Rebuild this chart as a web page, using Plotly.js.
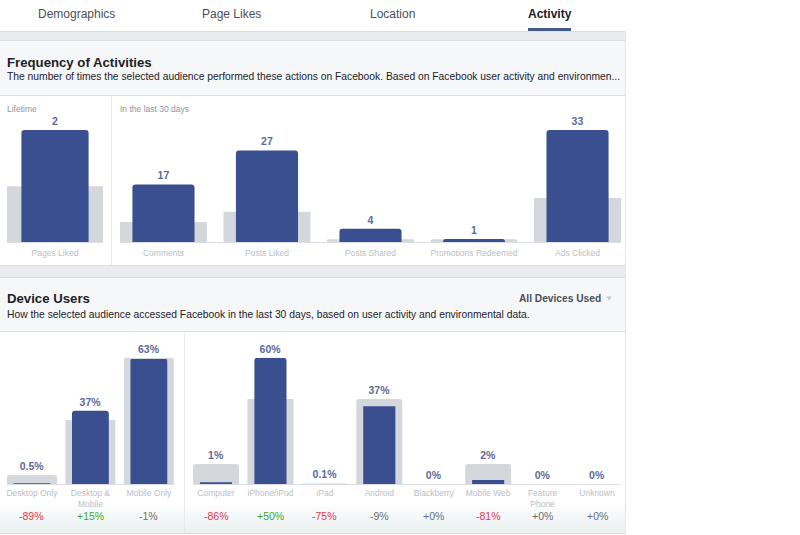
<!DOCTYPE html>
<html>
<head>
<meta charset="utf-8">
<script src="https://cdn.plot.ly/plotly-3.0.1.min.js"></script>
<style>html,body{margin:0;padding:0;background:#fff;}#chart{width:800px;height:535px;}</style>
</head>
<body>
<div id="chart"></div>
<script>
// ---------------- DATA ----------------
const tabs = ['Demographics', 'Page Likes', 'Location', 'Activity'];
const activeTab = 'Activity';

const lifetimeCats = ['Pages Liked'];
const lifetimeVals = [2];
const lifetimeBench = [1];

const activityCats = ['Comments', 'Posts Liked', 'Posts Shared', 'Promotions Redeemed', 'Ads Clicked'];
const activityVals = [17, 27, 4, 1, 33];
const activityBench = [6, 9, 0.9, 0.9, 13];

const platformCats = ['Desktop Only', 'Desktop & Mobile', 'Mobile Only'];
const platformTicks = ['Desktop Only', 'Desktop &<br>Mobile', 'Mobile Only'];
const platformVals = [0.5, 37, 63];
const platformBench = [4.7, 32.3, 63.7];
const platformChange = [-89, 15, -1];

const deviceCats = ['Computer', 'iPhone/iPod', 'iPad', 'Android', 'Blackberry', 'Mobile Web', 'Feature Phone', 'Unknown'];
const deviceTicks = ['Computer', 'iPhone/iPod', 'iPad', 'Android', 'Blackberry', 'Mobile Web', 'Feature<br>Phone', 'Unknown'];
const deviceVals = [1, 60, 0.1, 37, 0, 2, 0, 0];
const deviceBench = [9.6, 40.4, 0.4, 40.4, 0, 9.6, 0, 0];
const deviceChange = [-86, 50, -75, -9, 0, -81, 0, 0];

// ---------------- STYLE ----------------
const W = 800, H = 535;
const FONT = 'Liberation Sans, Arial, Helvetica, sans-serif';
const BLUE = '#3a4f90';
const GREY_BAR = '#d4d7dc';
const LABEL_COL = '#5b6b9c';
const TICK_COL = '#b9bec6';
const px = x => x / W;
const py = y => 1 - y / H;

function panel(n, cats, ticks, vals, bench, fmt, gw, bw) {
  const xa = n === 1 ? 'x' : 'x' + n, ya = n === 1 ? 'y' : 'y' + n;
  const top = cats.map((c, i) => Math.max(vals[i], bench[i]));
  return [
    {type: 'bar', x: cats, y: bench, xaxis: xa, yaxis: ya, width: gw,
     marker: {color: GREY_BAR, cornerradius: 3}, hoverinfo: 'skip', cliponaxis: false, showlegend: false},
    {type: 'bar', x: cats, y: vals, xaxis: xa, yaxis: ya, width: bw,
     marker: {color: BLUE, cornerradius: 3}, hoverinfo: 'skip', cliponaxis: false, showlegend: false},
    {type: 'bar', x: cats, y: top, xaxis: xa, yaxis: ya, width: gw,
     marker: {color: 'rgba(0,0,0,0)'}, text: vals.map(fmt), textposition: 'outside',
     constraintext: 'none', textangle: 0,
     outsidetextfont: {family: FONT, size: 10.5, color: LABEL_COL, weight: 'bold'},
     hoverinfo: 'skip', cliponaxis: false, showlegend: false}
  ];
}

const num = v => String(v);
const pct = v => v + '%';

const data = [].concat(
  panel(1, lifetimeCats, lifetimeCats, lifetimeVals, lifetimeBench, num, 1.0, 0.7),
  panel(2, activityCats, activityCats, activityVals, activityBench, num, 0.84, 0.6),
  panel(3, platformCats, platformTicks, platformVals, platformBench, pct, 0.855, 0.63),
  panel(4, deviceCats, deviceTicks, deviceVals, deviceBench, pct, 0.845, 0.59)
);

function xax(domain, range, cats, ticks, standoff) {
  return {domain: domain, range: range, type: 'category', fixedrange: true,
    showgrid: false, zeroline: false, showline: true, linecolor: '#dcdee3', linewidth: 1,
    ticks: '', tickvals: cats, ticktext: ticks, ticklabelstandoff: standoff,
    tickfont: {family: FONT, size: 8.5, color: TICK_COL}};
}
function yax(domain, vals, bench) {
  return {domain: domain, range: [0, Math.max(...vals, ...bench)], visible: false, fixedrange: true};
}

const topDom = [py(242.3), py(130)];
const botDom = [py(484.3), py(357.7)];

const shapes = [];
function rect(x0, y0, x1, y1, fill, opacity) {
  shapes.push({type: 'rect', xref: 'paper', yref: 'paper', x0: px(x0), x1: px(x1), y0: py(y1), y1: py(y0),
    fillcolor: fill, line: {width: 0}, layer: 'below', opacity: opacity === undefined ? 1 : opacity});
}
function line(x0, y0, x1, y1, col) {
  shapes.push({type: 'line', xref: 'paper', yref: 'paper', x0: px(x0), x1: px(x1), y0: py(y0), y1: py(y1),
    line: {color: col, width: 1}, layer: 'below'});
}
// page frame
rect(0, 31, 626, 40, '#e9ebee');
line(0, 31.5, 626, 31.5, '#dcdee3');
rect(0, 40, 626, 95, '#f6f7f9');
line(0, 40.5, 626, 40.5, '#dcdee3');
line(0, 95.5, 626, 95.5, '#dcdee3');
line(111.5, 96, 111.5, 265, '#e9ebee');
rect(0, 265, 626, 277, '#e9ebee');
line(0, 265.5, 626, 265.5, '#dcdee3');
line(0, 277.5, 626, 277.5, '#dcdee3');
rect(0, 278, 626, 331, '#f6f7f9');
line(0, 331.5, 626, 331.5, '#dcdee3');
line(184.5, 332, 184.5, 533, '#e9ebee');
// soft fade towards the bottom edge
for (let k = 0; k < 8; k++) {
  rect(0, 505 + k * 3.5, 626, 533, '#e6e8eb', 0.1);
}
line(0, 533.5, 626, 533.5, '#d6d8dc');
line(625.5, 31, 625.5, 534, '#e3e5e8');
// active tab underline
rect(528, 28, 571, 31, '#475a8c');

const annotations = [];
function txt(x, y, text, size, color, opts) {
  annotations.push(Object.assign({xref: 'paper', yref: 'paper', x: px(x), y: py(y), text: text,
    showarrow: false, xanchor: 'left', yanchor: 'middle',
    font: {family: FONT, size: size, color: color}}, opts || {}));
}
const tabX = [76, 231, 392, 550];
tabs.forEach((t, i) => {
  const act = t === activeTab;
  txt(tabX[i], 14, t, 12, act ? '#1d2129' : '#4b4f56',
      {xanchor: 'center', font: {family: FONT, size: 12, color: act ? '#1d2129' : '#4b4f56', weight: act ? 'bold' : 'normal'}});
});
txt(5, 62, 'Frequency of Activities', 13.2, '#1d2129', {font: {family: FONT, size: 13.2, color: '#1d2129', weight: 'bold'}});
txt(5, 77, 'The number of times the selected audience performed these actions on Facebook. Based on Facebook user activity and environmen...', 10.3, '#1d2129');
txt(5, 109, 'Lifetime', 8.5, '#90949c');
txt(118, 109, 'In the last 30 days', 8.5, '#90949c');
txt(5, 298, 'Device Users', 13.2, '#1d2129', {font: {family: FONT, size: 13.2, color: '#1d2129', weight: 'bold'}});
txt(5, 314, 'How the selected audience accessed Facebook in the last 30 days, based on user activity and environmental data.', 10.3, '#1d2129');
txt(603, 298, 'All Devices Used', 10.2, '#4b4f56', {xanchor: 'right', font: {family: FONT, size: 10.2, color: '#4b4f56', weight: 'bold'}});
txt(609, 298, '▼', 8, '#c4c8ce', {xanchor: 'center'});

function changeNotes(cats, changes, xref) {
  cats.forEach((c, i) => {
    const v = changes[i];
    const col = Math.abs(v) >= 10 ? (v < 0 ? '#e8364b' : '#42a82a') : '#6b6f76';
    annotations.push({xref: xref, yref: 'paper', x: c, y: py(516), text: (v >= 0 ? '+' : '') + v + '%',
      showarrow: false, xanchor: 'center', yanchor: 'middle',
      font: {family: FONT, size: 10.5, color: col}});
  });
}
changeNotes(platformCats, platformChange, 'x3');
changeNotes(deviceCats, deviceChange, 'x4');

const layout = {
  width: W, height: H, margin: {l: 0, r: 0, t: 0, b: 0},
  paper_bgcolor: '#ffffff', plot_bgcolor: 'rgba(0,0,0,0)',
  barmode: 'overlay', showlegend: false, font: {family: FONT},
  xaxis: xax([px(7), px(103)], [-0.5, 0.5], lifetimeCats, lifetimeCats, 2),
  yaxis: yax(topDom, lifetimeVals, lifetimeBench),
  xaxis2: xax([px(120), px(621)], [-0.42, 4.42], activityCats, activityCats, 2),
  yaxis2: yax(topDom, activityVals, activityBench),
  xaxis3: xax([px(6.8), px(174)], [-0.43, 2.43], platformCats, platformTicks, 0),
  yaxis3: yax(botDom, platformVals, platformBench),
  xaxis4: xax([px(192.6), px(620.4)], [-0.43, 7.43], deviceCats, deviceTicks, 0),
  yaxis4: yax(botDom, deviceVals, deviceBench),
  shapes: shapes, annotations: annotations
};
layout.yaxis2.anchor = 'x2'; layout.xaxis2.anchor = 'y2';
layout.yaxis3.anchor = 'x3'; layout.xaxis3.anchor = 'y3';
layout.yaxis4.anchor = 'x4'; layout.xaxis4.anchor = 'y4';

Plotly.newPlot('chart', data, layout, {displayModeBar: false, staticPlot: true});
</script>
</body>
</html>
